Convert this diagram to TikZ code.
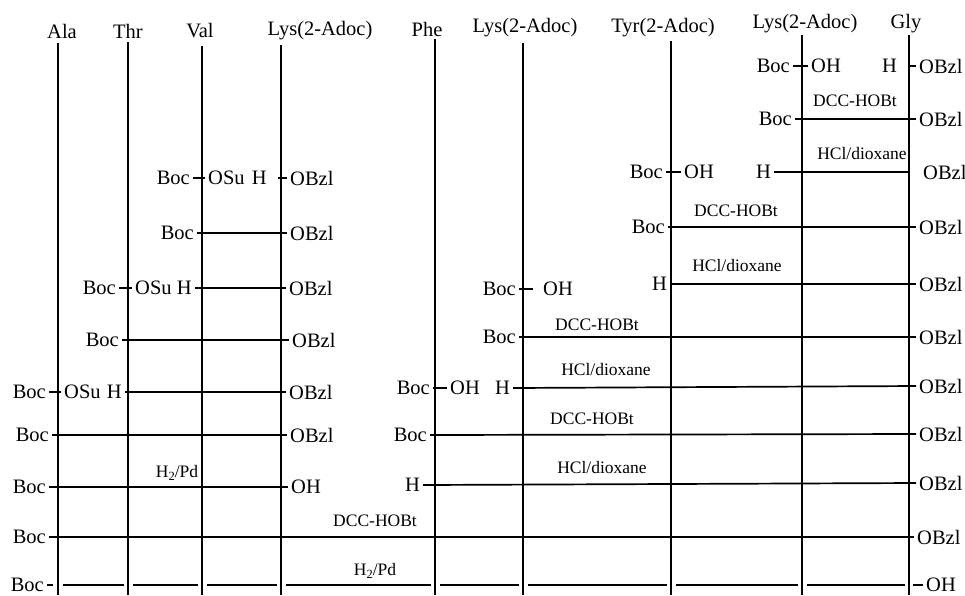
\documentclass[tikz,border=0pt]{standalone}
\usepackage{fontspec}
\setmainfont{Liberation Serif}
\begin{document}
\begin{tikzpicture}[x=1pt,y=-1pt,
  lbl/.style={inner xsep=3pt, inner ysep=0pt, font=\fontsize{20.5}{24}\selectfont},
  col/.style={inner sep=0pt, font=\fontsize{20.5}{24}\selectfont},
  rg/.style={inner sep=0pt, font=\fontsize{17.5}{20}\selectfont},
  ln/.style={line width=1.7pt},
  vl/.style={line width=1.7pt},
]
\useasboundingbox (0,0) rectangle (965,595);

% column labels
\node[col] (lAla) at (62,31) {Ala};
\node[col] (lThr) at (128,31) {Thr};
\node[col] (lVal) at (200,31) {Val};
\node[col] (lLysA) at (320,31) {Lys(2-Adoc)};
\node[col] (lPhe) at (427,29) {Phe};
\node[col] (lLysB) at (525,28) {Lys(2-Adoc)};
\node[col] (lTyr) at (663,28) {Tyr(2-Adoc)};
\node[col] (lLysC) at (805,24) {Lys(2-Adoc)};
\node[col] (lGly) at (906,24) {Gly};

% column lines
\coordinate (tAla) at (58,43);   \coordinate (bAla) at (58,595);
\coordinate (tThr) at (128,42);  \coordinate (bThr) at (128,595);
\coordinate (tVal) at (202,46);  \coordinate (bVal) at (202,595);
\coordinate (tLysA) at (281,45); \coordinate (bLysA) at (281,595);
\coordinate (tPhe) at (435,39);  \coordinate (bPhe) at (435,595);
\coordinate (tLysB) at (523,43); \coordinate (bLysB) at (523,595);
\coordinate (tTyr) at (671,41);  \coordinate (bTyr) at (671,595);
\coordinate (tLysC) at (802,35); \coordinate (bLysC) at (802,595);
\coordinate (tGly) at (909,35);  \coordinate (bGly) at (909,595);
\foreach \c in {Ala,Thr,Val,LysA,Phe,LysB,Tyr,LysC,Gly}
  \draw[vl] (t\c) -- (b\c);

% ---------- left block ----------
% row a
\node[lbl,anchor=east] (a1) at (193,178) {Boc};
\node[lbl,anchor=west] (a2) at (205,178) {OSu};
\draw[ln] (a1.east) -- (a2.west);
\node[lbl,anchor=east] (a3) at (270,178) {H};
\node[lbl,anchor=west] (a4) at (287,178) {OBzl};
\draw[ln] ([xshift=8pt]a3.east) -- (a4.west);
% row b
\node[lbl,anchor=east] (b1) at (197,233) {Boc};
\node[lbl,anchor=west] (b2) at (287,233) {OBzl};
\draw[ln] (b1.east) -- (b2.west);
% row c
\node[lbl,anchor=east] (c1) at (119,288) {Boc};
\node[lbl,anchor=west] (c2) at (132,288) {OSu};
\draw[ln] (c1.east) -- (c2.west);
\node[lbl,anchor=east] (c3) at (195,288) {H};
\node[lbl,anchor=west] (c4) at (286,288) {OBzl};
\draw[ln] (c3.east) -- (c4.west);
% row d
\node[lbl,anchor=east] (d1) at (122,340) {Boc};
\node[lbl,anchor=west] (d2) at (289,340) {OBzl};
\draw[ln] (d1.east) -- (d2.west);
% row e
\node[lbl,anchor=east] (e1) at (49,392) {Boc};
\node[lbl,anchor=west] (e2) at (61,392) {OSu};
\draw[ln] (e1.east) -- (e2.west);
\node[lbl,anchor=east] (e3) at (125,392) {H};
\node[lbl,anchor=west] (e4) at (286,392) {OBzl};
\draw[ln] (e3.east) -- (e4.west);
% row f
\node[lbl,anchor=east] (f1) at (52,435) {Boc};
\node[lbl,anchor=west] (f2) at (287,435) {OBzl};
\draw[ln] (f1.east) -- (f2.west);
% row g
\node[lbl,anchor=east] (g1) at (49,487) {Boc};
\node[lbl,anchor=west] (g2) at (288,487) {OH};
\draw[ln] (g1.east) -- (g2.west);
\node[rg] (g3) at (177,473) {H\raisebox{-0.45ex}{\fontsize{12.5}{13}\selectfont 2}/Pd};
% row h
\node[lbl,anchor=east] (h1) at (49,537) {Boc};
\node[lbl,anchor=west] (h2) at (914,537) {OBzl};
\draw[ln] (h1.east) -- (h2.west);
\node[rg] (h3) at (375,521) {DCC-HOBt};
% row i (bottom)
\node[lbl,anchor=east] (i1) at (47,585) {Boc};
\node[lbl,anchor=west] (i2) at (923,585) {OH};
\node[rg] (i3) at (375,571) {H\raisebox{-0.45ex}{\fontsize{12.5}{13}\selectfont 2}/Pd};
\foreach \c in {Ala,Thr,Val,LysA,Phe,LysB,Tyr,LysC,Gly}
  \coordinate (r\c) at (t\c |- i1);
\draw[ln] (i1.east) -- ([xshift=-5pt]rAla);
\draw[ln] ([xshift=5pt]rAla) -- ([xshift=-4pt]rThr);
\draw[ln] ([xshift=5pt]rThr) -- ([xshift=-4pt]rVal);
\draw[ln] ([xshift=5pt]rVal) -- ([xshift=-4pt]rLysA);
\draw[ln] ([xshift=5pt]rLysA) -- ([xshift=-4pt]rPhe);
\draw[ln] ([xshift=5pt]rPhe) -- ([xshift=-4pt]rLysB);
\draw[ln] ([xshift=5pt]rLysB) -- ([xshift=-4pt]rTyr);
\draw[ln] ([xshift=5pt]rTyr) -- ([xshift=-4pt]rLysC);
\draw[ln] ([xshift=5pt]rLysC) -- ([xshift=-4pt]rGly);
\draw[ln] ([xshift=4pt]rGly) -- (i2.west);

% ---------- right block ----------
% row 1
\node[lbl,anchor=east] (k1) at (793,66) {Boc};
\node[lbl,anchor=west] (k2) at (808,66) {OH};
\draw[ln] (k1.east) -- (k2.west);
\node[lbl,anchor=east] (k3) at (900,66) {H};
\node[lbl,anchor=west] (k4) at (916,66) {OBzl};
\draw[ln] ([xshift=8pt]k3.east) -- (k4.west);
% row 2
\node[lbl,anchor=east] (l1) at (795,119) {Boc};
\node[lbl,anchor=west] (l2) at (916,119) {OBzl};
\draw[ln] (l1.east) -- (l2.west);
\node[rg] (l3) at (855,101) {DCC-HOBt};
% row 3
\node[lbl,anchor=east] (m1) at (666,172) {Boc};
\node[lbl,anchor=west] (m2) at (681,172) {OH};
\draw[ln] (m1.east) -- (m2.west);
\node[lbl,anchor=east] (m3) at (774,172) {H};
\node[lbl,anchor=west] (m4) at (920,172) {OBzl};
\draw[ln] (m3.east) -- (m3.east -| tGly);
\node[rg] (m5) at (862,154) {HCl/dioxane};
% row 4
\node[lbl,anchor=east] (n1) at (668,227) {Boc};
\node[lbl,anchor=west] (n2) at (916,227) {OBzl};
\draw[ln] (n1.east) -- (n2.west);
\node[rg] (n3) at (736,211) {DCC-HOBt};
% row 5
\node[lbl,anchor=east] (o1) at (670,284) {H};
\node[lbl,anchor=west] (o2) at (916,284) {OBzl};
\draw[ln] (o1.east) -- (o2.west);
\node[rg] (o3) at (737,266) {HCl/dioxane};
% row 6
\node[lbl,anchor=east] (p1) at (519,289) {Boc};
\node[lbl,anchor=west] (p2) at (540,289) {OH};
\draw[ln] (p1.east) -- ([xshift=-7pt]p2.west);
% row 7
\node[lbl,anchor=east] (q1) at (519,337) {Boc};
\node[lbl,anchor=west] (q2) at (916,337) {OBzl};
\draw[ln] (q1.east) -- (q2.west);
\node[rg] (q3) at (597,325) {DCC-HOBt};
% row 8
\node[lbl,anchor=east] (s1) at (433,388) {Boc};
\node[lbl,anchor=west] (s2) at (447,388) {OH};
\draw[ln] (s1.east) -- (s2.west);
\node[lbl,anchor=east] (s3) at (513,388) {H};
\node[lbl,anchor=west] (s4) at (916,386) {OBzl};
\draw[ln] (s3.east) -- (s4.west);
\node[rg] (s5) at (606,370) {HCl/dioxane};
% row 9
\node[lbl,anchor=east] (u1) at (430,435) {Boc};
\node[lbl,anchor=west] (u2) at (916,434) {OBzl};
\draw[ln] (u1.east) -- (u2.west);
\node[rg] (u3) at (592,419) {DCC-HOBt};
% row 10
\node[lbl,anchor=east] (w1) at (423,485) {H};
\node[lbl,anchor=west] (w2) at (916,483) {OBzl};
\draw[ln] (w1.east) -- (w2.west);
\node[rg] (w3) at (602,468) {HCl/dioxane};
\end{tikzpicture}
\end{document}
